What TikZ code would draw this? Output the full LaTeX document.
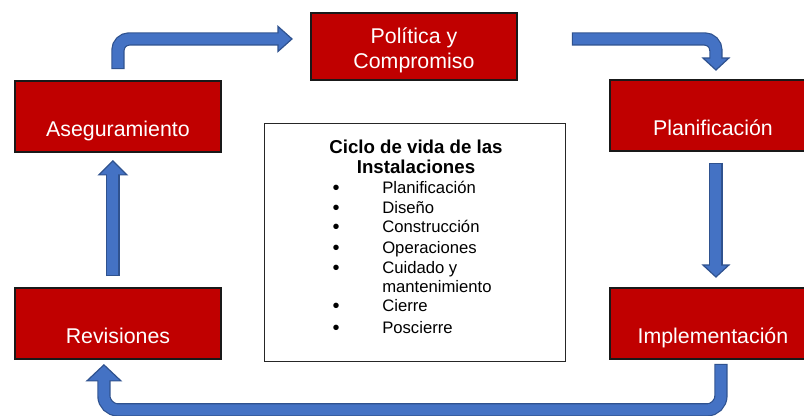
\documentclass[tikz,border=0pt]{standalone}
\usepackage{fontspec}
\setmainfont{Liberation Sans}
\usetikzlibrary{positioning,calc}

\definecolor{boxred}{HTML}{C00000}
\definecolor{arrowfill}{HTML}{4472C4}
\definecolor{arrowedge}{HTML}{2F528F}

\begin{document}
\begin{tikzpicture}[
  x=0.75pt, y=-0.75pt,
  stage/.style={draw=black!90, line width=1.4pt, fill=boxred, text=white,
                minimum width=154.5pt, inner sep=0pt, anchor=north west,
                text height=42pt, text depth=11.25pt, align=center,
                font=\fontsize{16}{18.75}\selectfont},
  cyclebox/.style={draw=black!85, line width=1.1pt, fill=white,
                   anchor=north west, minimum width=225.75pt,
                   minimum height=178.5pt, inner sep=0pt},
  ttl/.style={font=\fontsize{14}{15}\selectfont\bfseries, align=center,
              anchor=base, inner sep=0pt},
  item/.style={font=\fontsize{12.5}{15}\selectfont, anchor=base west,
               inner sep=0pt},
  dot/.style={font=\fontsize{15}{15}\selectfont, anchor=base,
              inner sep=0pt},
  shaftedge/.style={draw=arrowedge, line width=10pt, rounded corners=8.5pt},
  shaftfill/.style={draw=arrowfill, line width=8.2pt, rounded corners=8.5pt,
                    shorten <=0.9pt, shorten >=-1.2pt},
  head/.style={fill=arrowfill, draw=arrowedge, line width=0.9pt,
               line join=miter},
]
  \fill[white] (0,0) rectangle (804,415);
  \useasboundingbox (0,0) rectangle (804,415);

  %% Stages of the cycle
  \node[stage, text depth=8.25pt] (pol) at (310,12) {Política y\\Compromiso};
  \node[stage] (aseg) at (14,80)   {Aseguramiento};
  \node[stage] (plan) at (609,79)  {Planificación};
  \node[stage] (rev)  at (14,287)  {Revisiones};
  \node[stage] (impl) at (609,287) {Implementación};

  %% Centre box: life cycle of the facilities
  \node[cyclebox] (ciclo) at (264,123) {};
  \node[ttl] (titulo) at (416,173) {Ciclo de vida de las\\Instalaciones};
  \foreach \yy/\txt [count=\i] in {193/Planificación, 213/Diseño,
      232/Construcción, 253/Operaciones, 273/Cuidado y,
      292/mantenimiento, 311/Cierre, 333/Poscierre}
    \node[item] (it\i) at (382,\yy) {\txt};
  \foreach \yy [count=\i] in {194,214,233,254,274,312,334}
    \node[dot] (bu\i) at (336,\yy) {•};

  %% Arrow end points
  \coordinate (a1s) at ($(aseg.north)+(0,-11)$);
  \coordinate (a1t) at ($(pol.west)+(-18,-7.5)$);
  \coordinate (a1b) at ($(a1t)+(-14,0)$);
  \coordinate (a2s) at ($(pol.east)+(54,-7.5)$);
  \coordinate (a2t) at ($(plan.north)+(3,-9)$);
  \coordinate (a2b) at ($(a2t)+(0,-12)$);
  \coordinate (a3s) at ($(plan.south)+(3,11)$);
  \coordinate (a3t) at ($(impl.north)+(3,-10)$);
  \coordinate (a3b) at ($(a3t)+(0,-12)$);
  \coordinate (a4s) at ($(impl.south)+(8,4)$);
  \coordinate (a4t) at ($(rev.south)+(-14,5)$);
  \coordinate (a4b) at ($(a4t)+(0,16)$);
  \coordinate (a5s) at ($(rev.north)+(-5,-11)$);
  \coordinate (a5t) at ($(aseg.south)+(-5,8)$);
  \coordinate (a5b) at ($(a5t)+(0,14)$);

  %% Aseguramiento -> Politica
  \draw[shaftedge] (a1s) |- (a1b);
  \draw[head] (a1t) -- ++(-14,-12.5) -- ++(0,25) -- cycle;
  \draw[shaftfill] (a1s) |- (a1b);

  %% Politica -> Planificacion
  \draw[shaftedge] (a2s) -| (a2b);
  \draw[head] (a2t) -- ++(-13,-12) -- ++(26,0) -- cycle;
  \draw[shaftfill] (a2s) -| (a2b);

  %% Planificacion -> Implementacion
  \draw[shaftedge] (a3s) -- (a3b);
  \draw[head] (a3t) -- ++(-13,-12) -- ++(26,0) -- cycle;
  \draw[shaftfill] (a3s) -- (a3b);

  %% Implementacion -> Revisiones
  \draw[shaftedge, rounded corners=10.5pt] (a4s) -- ++(0,46) -| (a4b);
  \draw[head] (a4t) -- ++(-17,16) -- ++(34,0) -- cycle;
  \draw[shaftfill, rounded corners=10.5pt] (a4s) -- ++(0,46) -| (a4b);

  %% Revisiones -> Aseguramiento
  \draw[shaftedge] (a5s) -- (a5b);
  \draw[head] (a5t) -- ++(-14,14) -- ++(28,0) -- cycle;
  \draw[shaftfill] (a5s) -- (a5b);
\end{tikzpicture}
\end{document}
